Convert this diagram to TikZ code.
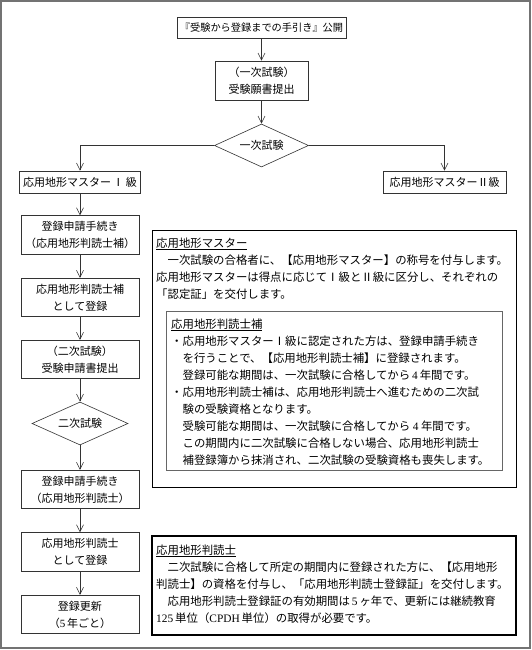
\documentclass[tikz,border=0pt]{standalone}
\usepackage{fontspec}
\setmainfont{Noto Sans CJK JP}
\newfontfamily\latf{Liberation Serif}
\usetikzlibrary{arrows.meta,shapes.geometric}
\tikzset{
  frame/.style={draw=black!55, line width=2pt},
  flow/.style={draw=black!80, line width=0.6pt, minimum width=118pt, minimum height=38.5pt,
    inner sep=0pt, align=center, font=\fontsize{11}{17}\selectfont},
  dia/.style={draw=black!80, line width=0.6pt, diamond, aspect=2.2, inner sep=0pt,
    font=\fontsize{11}{13}\selectfont},
  arr/.style={draw=black!80, line width=0.6pt, -{Straight Barb[length=7pt,width=7pt]}},
  infobox/.style={draw=black, line width=0.8pt, inner sep=0pt},
  innerbox/.style={draw=black!60, line width=0.8pt, inner sep=0pt},
  strongbox/.style={draw=black, line width=1.6pt, inner sep=0pt},
  txt/.style={inner sep=0pt, anchor=base west, font=\fontsize{11.4}{17}\selectfont}
}
\begin{document}
\begin{tikzpicture}[x=1pt,y=-1pt]
\useasboundingbox (0,0) rectangle (532,650);
\fill[white] (0,0) rectangle (532,650);
\draw[frame] (1,1) rectangle (530,648);

% flow chart
\node[flow, minimum width=169pt, minimum height=21pt, font=\fontsize{10.2}{12}\selectfont] (n0) at (261.5,27.5) {『受験から登録までの手引き』公開};
\node[flow, minimum width=93pt, minimum height=39pt] (n1) at (261.5,80.5) {（一次試験）\\受験願書提出};
\node[dia, minimum width=94pt, minimum height=43pt] (d1) at (261.5,145.5) {一次試験};
\node[flow, minimum width=121pt, minimum height=22pt] (m1) at (80,182) {応用地形マスター\,Ⅰ\,級};
\node[flow, minimum width=123pt, minimum height=22pt] (m2) at (444.5,182) {応用地形マスターⅡ級};
\node[flow] (a1) at (80,235) {登録申請手続き\\（応用地形判読士補）};
\node[flow] (a2) at (80,297.5) {応用地形判読士補\\として登録};
\node[flow] (a3) at (80,359.5) {（二次試験）\\受験申請書提出};
\node[dia, minimum width=96pt, minimum height=43pt] (d2) at (80,423.5) {二次試験};
\node[flow] (a4) at (80,489.5) {登録申請手続き\\（応用地形判読士）};
\node[flow] (a5) at (80,552) {応用地形判読士\\として登録};
\node[flow] (a6) at (80,614.5) {登録更新\\（{\latf 5\,}年ごと）};

\draw[arr] (n0) -- (n1);
\draw[arr] (n1) -- (d1);
\draw[arr] (d1.west) -| (m1.north);
\draw[arr] (d1.east) -| (m2.north);
\draw[arr] (m1) -- (a1);
\draw[arr] (a1) -- (a2);
\draw[arr] (a2) -- (a3);
\draw[arr] (a3) -- (d2);
\draw[arr] (d2) -- (a4);
\draw[arr] (a4) -- (a5);
\draw[arr] (a5) -- (a6);

% info box 1
\node[infobox, minimum width=364pt, minimum height=257pt] (b1) at (334,358.5) {};
\node[txt] (b1h) at (156,247.3) {\underline{応用地形マスター}};
\foreach \t [count=\i] in {
  {　一次試験の合格者に、【応用地形マスター】の称号を付与します。},
  {応用地形マスターは得点に応じてⅠ級とⅡ級に区分し、それぞれの},
  {「認定証」を交付します。}}
  \node[txt] (b1l\i) at (156,247.3+17*\i) {\t};

% inner box
\node[innerbox, minimum width=336pt, minimum height=159pt] (b2) at (334,390.5) {};
\node[txt] (b2h) at (171,328.3) {\underline{応用地形判読士補}};
\foreach \t [count=\i] in {
  {・応用地形マスターⅠ級に認定された方は、登録申請手続き},
  {　を行うことで、【応用地形判読士補】に登録されます。},
  {　登録可能な期間は、一次試験に合格してから{\latf\,4\,}年間です。},
  {・応用地形判読士補は、応用地形判読士へ進むための二次試},
  {　験の受験資格となります。},
  {　受験可能な期間は、一次試験に合格してから {\latf 4} 年間です。},
  {　この期間内に二次試験に合格しない場合、応用地形判読士},
  {　補登録簿から抹消され、二次試験の受験資格も喪失します。}}
  \node[txt] (b2l\i) at (171,328.3+17*\i) {\t};

% info box 3
\node[strongbox, minimum width=364pt, minimum height=99pt] (b3) at (334,585.5) {};
\node[txt] (b3h) at (156,554.3) {\underline{応用地形判読士}};
\foreach \t [count=\i] in {
  {　二次試験に合格して所定の期間内に登録された方に、【応用地形},
  {判読士】の資格を付与し、「応用地形判読士登録証」を交付します。},
  {　応用地形判読士登録証の有効期間は{\latf\,5\,}ヶ年で、更新には継続教育},
  {{\latf 125\,}単位（{\latf CPDH\,}単位）の取得が必要です。}}
  \node[txt] (b3l\i) at (156,554.3+17*\i) {\t};
\end{tikzpicture}
\end{document}
